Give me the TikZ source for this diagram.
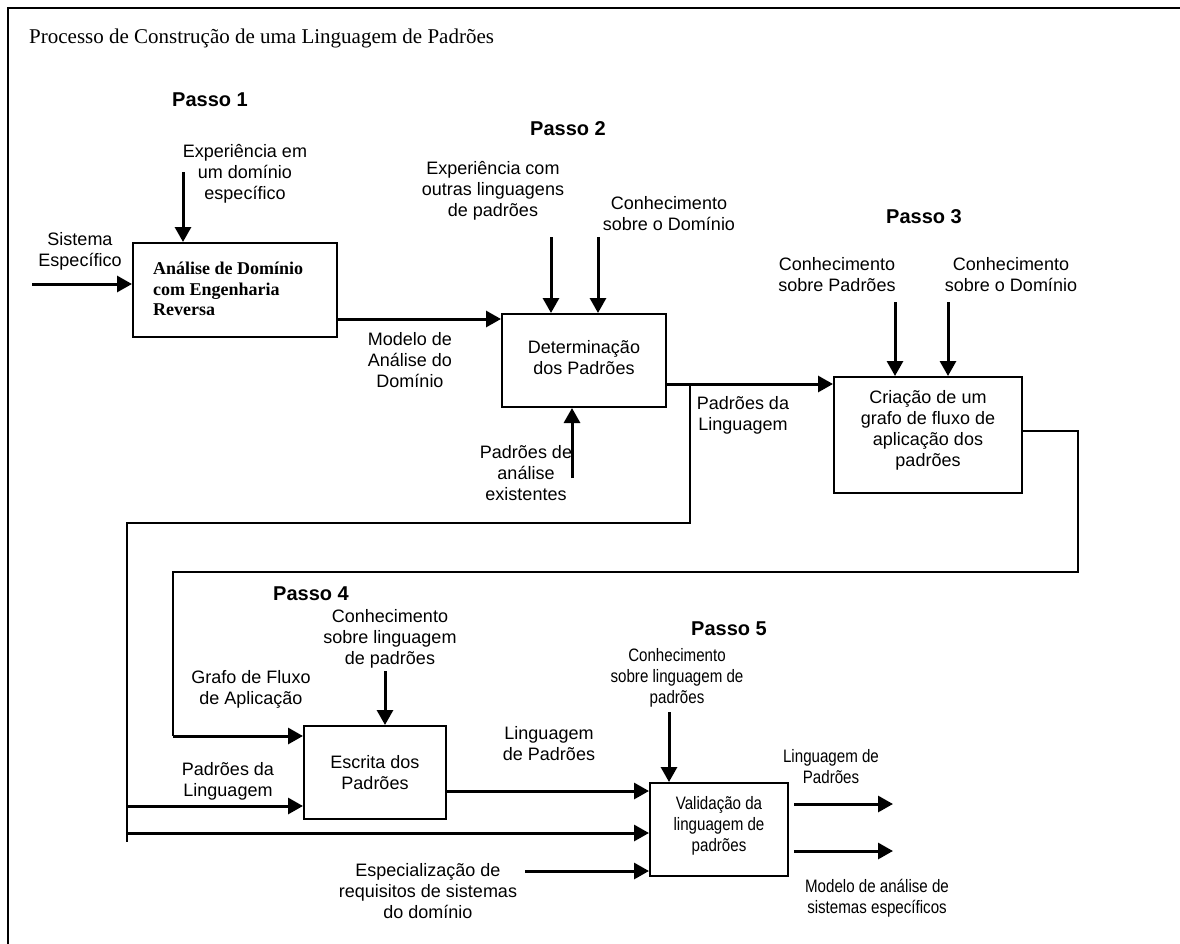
\documentclass[tikz,border=0pt]{standalone}
\usepackage{fontspec}
\setmainfont{Liberation Serif}
\setsansfont{Liberation Sans}
\newfontfamily\narrowsans[FakeStretch=0.84]{Liberation Sans}
\usetikzlibrary{arrows.meta}
\begin{document}
\begin{tikzpicture}[x=1pt,y=-1pt,
  box/.style={draw,line width=2pt,rectangle,inner sep=0pt},
  lbl/.style={font=\sffamily\fontsize{18}{21}\selectfont,align=center,inner sep=0pt},
  nlbl/.style={font=\narrowsans\fontsize{18}{21}\selectfont,align=center,inner sep=0pt},
  passo/.style={font=\sffamily\bfseries\fontsize{20}{24}\selectfont,inner sep=0pt},
  arr/.style={line width=3pt,-{Triangle[length=15pt,width=16pt]}},
  wire/.style={line width=2.5pt},
  frame/.style={line width=2.5pt}]
\useasboundingbox (0,0) rectangle (1180,943);

% outer frame (top and left edges, running off the page)
\draw[frame] (1190,8) -- (8,8) -- (8,953);
\node[font=\rmfamily\fontsize{21}{25}\selectfont,anchor=base west,inner sep=0pt] (title) at (29,43)
  {Processo de Construção de uma Linguagem de Padrões};

% process boxes
\node[box,minimum width=204,minimum height=94] (b1) at (235,290) {};
\node[font=\rmfamily\bfseries\fontsize{18}{20.5}\selectfont,align=left,anchor=west,inner sep=0pt] (t1) at (153,289)
  {Análise de Domínio\\com Engenharia\\Reversa};
\node[box,minimum width=164,minimum height=93] (b2) at (584,360.5) {};
\node[lbl] (t2) at (584,358) {Determinação\\dos Padrões};
\node[box,minimum width=188,minimum height=116] (b3) at (928,435) {};
\node[lbl] (t3) at (928,430) {Criação de um\\grafo de fluxo de\\aplicação dos\\padrões};
\node[box,minimum width=142,minimum height=93] (b4) at (375,772.5) {};
\node[lbl] (t4) at (375,773) {Escrita dos\\Padrões};
\node[box,minimum width=138,minimum height=93] (b5) at (719,829.5) {};
\node[nlbl] (t5) at (719,826) {Validação da\\linguagem de\\padrões};

% step titles
\node[passo] (p1) at (210,100) {Passo 1};
\node[passo] (p2) at (568,129) {Passo 2};
\node[passo] (p3) at (924,217) {Passo 3};
\node[passo] (p4) at (311,594) {Passo 4};
\node[passo] (p5) at (729,629) {Passo 5};

% labels
\node[lbl] (l1) at (245,174) {Experiência em\\um domínio\\específico};
\node[lbl] (l2) at (80,251) {Sistema\\Específico};
\node[lbl] (l3) at (410,360) {Modelo de\\Análise do\\Domínio};
\node[lbl] (l4) at (493,191) {Experiência com\\outras linguagens\\de padrões};
\node[lbl] (l5) at (669,214) {Conhecimento\\sobre o Domínio};
\node[lbl] (l6) at (526,473) {Padrões de\\análise\\existentes};
\node[lbl] (l7) at (743,415) {Padrões da\\Linguagem};
\node[lbl] (l8) at (837,275) {Conhecimento\\sobre Padrões};
\node[lbl] (l9) at (1011,275) {Conhecimento\\sobre o Domínio};
\node[lbl] (l10) at (390,639) {Conhecimento\\sobre linguagem\\de padrões};
\node[lbl] (l11) at (251,689) {Grafo de Fluxo\\de Aplicação};
\node[lbl] (l12) at (228,781) {Padrões da\\Linguagem};
\node[lbl] (l13) at (549,744) {Linguagem\\de Padrões};
\node[lbl] (l14) at (428,891) {Especialização de\\requisitos de sistemas\\do domínio};
\node[nlbl] (l15) at (677,678) {Conhecimento\\sobre linguagem de\\padrões};
\node[nlbl] (l16) at (831,767) {Linguagem de\\Padrões};
\node[nlbl] (l17) at (877,898) {Modelo de análise de\\sistemas específicos};

% free ends of connectors
\coordinate (s1) at (32,284);
\coordinate (e1) at (183,172);
\coordinate (m1) at (337,319);
\coordinate (e2a) at (551,237);
\coordinate (e2b) at (598,237);
\coordinate (e2c) at (572,478);
\coordinate (o2) at (666,384);
\coordinate (j1) at (690,384);
\coordinate (e3a) at (895,302);
\coordinate (e3b) at (948,302);
\coordinate (o3) at (1022,431);
\coordinate (e4) at (385,671);
\coordinate (f4) at (173,736);
\coordinate (g4) at (127,806);
\coordinate (g5) at (127,833);
\coordinate (o4) at (446,791);
\coordinate (sp) at (525,871);
\coordinate (e5) at (669,712);
\coordinate (o5a) at (794,804);
\coordinate (o5b) at (794,851);

% step 1
\draw[arr] (s1) -- (s1 -| b1.west);
\draw[arr] (e1) -- (e1 |- b1.north);
\draw[arr] (m1) -- (m1 -| b2.west);
% step 2
\draw[arr] (e2a) -- (e2a |- b2.north);
\draw[arr] (e2b) -- (e2b |- b2.north);
\draw[arr] (e2c) -- (e2c |- b2.south);
\draw[arr] (o2) -- (o2 -| b3.west);
\draw[wire] (j1) -- (690,523) -- (127,523) -- (127,842);
% step 3
\draw[arr] (e3a) -- (e3a |- b3.north);
\draw[arr] (e3b) -- (e3b |- b3.north);
\draw[wire] (o3) -- (1078,431) -- (1078,572) -- (173,572) -- (f4);
% step 4
\draw[arr] (f4) -- (f4 -| b4.west);
\draw[arr] (g4) -- (g4 -| b4.west);
\draw[arr] (e4) -- (e4 |- b4.north);
\draw[arr] (o4) -- (o4 -| b5.west);
% step 5
\draw[arr] (g5) -- (g5 -| b5.west);
\draw[arr] (sp) -- (sp -| b5.west);
\draw[arr] (e5) -- (e5 |- b5.north);
\draw[arr] (o5a) -- (893,804);
\draw[arr] (o5b) -- (893,851);
\end{tikzpicture}
\end{document}
